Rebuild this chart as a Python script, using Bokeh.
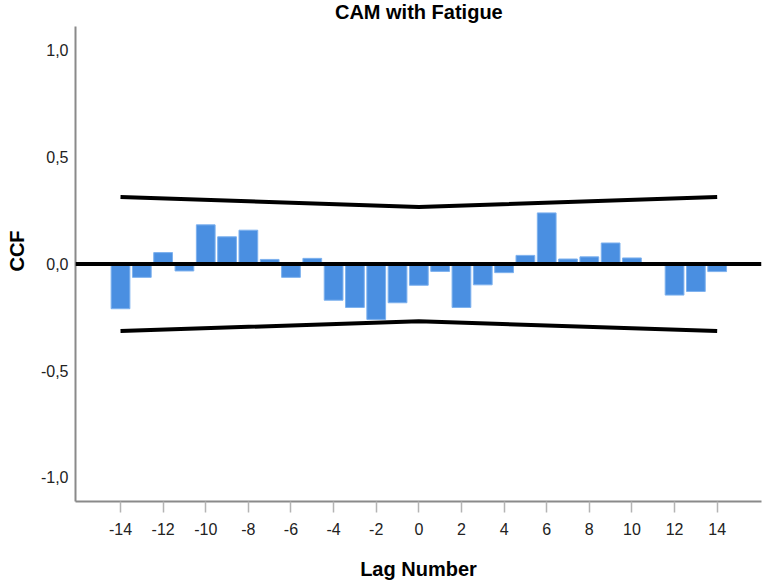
from bokeh.plotting import figure
from bokeh.models import Span, Label, FixedTicker, Range1d
from bokeh.embed import file_html
from bokeh.resources import INLINE

# ---- data ----
lags = list(range(-14, 15))
ccf = [-0.210, -0.063, 0.053, -0.033, 0.183, 0.127, 0.158, 0.021, -0.063, 0.026,
       -0.170, -0.204, -0.260, -0.182, -0.100, -0.035, -0.204, -0.098, -0.041, 0.040,
       0.239, 0.023, 0.033, 0.098, 0.028, 0.0, -0.146, -0.129, -0.036]
ci_lags = [-14, 0, 14]
ci_upper = [0.313, 0.267, 0.313]
ci_lower = [-0.314, -0.269, -0.314]
x_ticks = [-14, -12, -10, -8, -6, -4, -2, 0, 2, 4, 6, 8, 10, 12, 14]
x_tick_labels = ["-14", "-12", "-10", "-8", "-6", "-4", "-2", "0",
                 "2", "4", "6", "8", "10", "12", "14"]
y_ticks = [-1.0, -0.5, 0.0, 0.5, 1.0]
y_tick_labels = ["-1,0", "-0,5", "0,0", "0,5", "1,0"]
title_text = "CAM with Fatigue"
x_label = "Lag Number"
y_label = "CCF"

FONT = "Liberation Sans"

y_top = 1.234
p = figure(width=765, height=584, output_backend="svg", toolbar_location=None,
           x_range=Range1d(-16.112, 16.08), y_range=Range1d(-1.113, y_top),
           min_border_left=75, min_border_right=4, min_border_top=0,
           min_border_bottom=83, background_fill_color="white",
           border_fill_color="white")
p.outline_line_color = None
p.grid.visible = False

p.vbar(x=lags, top=ccf, bottom=0, width=0.88, fill_color="#4A8FE1",
       line_color="#7DB1EE", line_width=1)
p.line(ci_lags, ci_upper, line_width=4, line_color="black")
p.line(ci_lags, ci_lower, line_width=4, line_color="black")
p.add_layout(Span(location=0, dimension="width", line_color="black", line_width=4))

p.add_layout(Label(x=0, y=y_top, text=title_text, text_align="center",
                   text_baseline="top", text_font=FONT, text_font_style="bold",
                   text_font_size="20px", text_color="black"))

xa = p.xaxis[0]
xa.ticker = FixedTicker(ticks=x_ticks)
xa.major_label_overrides = {t: s for t, s in zip(x_ticks, x_tick_labels)}
xa.axis_line_color = "#8a8a8a"
xa.axis_line_width = 2
xa.major_tick_line_color = "#b4b4b4"
xa.major_tick_line_width = 1.5
xa.major_tick_out = 11
xa.major_tick_in = 0
xa.minor_tick_out = 0
xa.minor_tick_in = 0
xa.major_label_standoff = 10
xa.major_label_text_font = FONT
xa.major_label_text_font_size = "16px"
xa.major_label_text_color = "#222222"
xa.axis_label = x_label
xa.axis_label_text_font = FONT
xa.axis_label_text_font_style = "bold"
xa.axis_label_text_font_size = "20px"
xa.axis_label_text_color = "black"
xa.axis_label_standoff = 20

ya = p.yaxis[0]
ya.ticker = FixedTicker(ticks=y_ticks)
ya.major_label_overrides = {t: s for t, s in zip(y_ticks, y_tick_labels)}
ya.bounds = (-1.113, 1.1125)
ya.axis_line_color = "#8a8a8a"
ya.axis_line_width = 2
ya.major_tick_out = 0
ya.major_tick_in = 0
ya.minor_tick_out = 0
ya.minor_tick_in = 0
ya.major_label_standoff = 7
ya.major_label_text_font = FONT
ya.major_label_text_font_size = "16px"
ya.major_label_text_color = "#222222"
ya.axis_label = y_label
ya.axis_label_text_font = FONT
ya.axis_label_text_font_style = "bold"
ya.axis_label_text_font_size = "20px"
ya.axis_label_text_color = "black"
ya.axis_label_standoff = 10

open("out.html", "w").write(file_html(p, INLINE))
